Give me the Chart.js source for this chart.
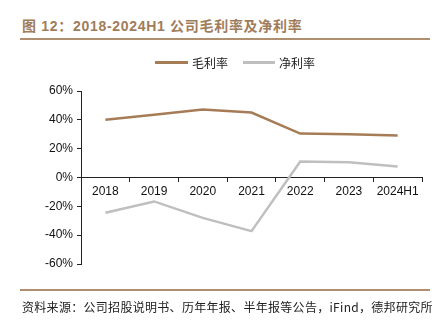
<!DOCTYPE html>
<html lang="zh">
  <head>
    <meta charset="utf-8" />
    <title>2018-2024H1 公司毛利率及净利率</title>
    <style>
      body { margin: 0; background: #fff; width: 445px; height: 324px; position: relative; overflow: hidden; }
      .title { position: absolute; left: 22px; top: 15px; font: bold 14px "Liberation Sans", "Noto Sans CJK SC", sans-serif; color: #a07c5a; letter-spacing: 0.7px; }
      .rule { position: absolute; left: 20px; width: 410px; height: 2px; background: #b08f70; }
      .legend { position: absolute; top: 54px; left: 0; font: 12px "Noto Sans CJK SC", sans-serif; color: #222; }
      .legend span { position: absolute; white-space: nowrap; }
      .legend i { position: absolute; height: 3px; top: 7px; }
      .source { position: absolute; left: 22px; top: 298px; font: 12px "Noto Sans CJK SC", "Liberation Sans", sans-serif; color: #222; letter-spacing: 0.3px; white-space: nowrap; }
      #wrap { position: absolute; left: 0; top: 0; width: 445px; height: 324px; }
    </style>
  </head>
  <body>
    <div class="title">图 12：2018-2024H1 公司毛利率及净利率</div>
    <div class="rule" style="top: 38px"></div>
    <div id="wrap"><canvas id="myChart"></canvas></div>
    <div class="legend">
      <i style="left: 155px; width: 33px; background: #a67c57"></i>
      <span style="left: 192px">毛利率</span>
      <i style="left: 243px; width: 32px; background: #bfbfbf"></i>
      <span style="left: 279px">净利率</span>
    </div>
    <div class="rule" style="top: 289px"></div>
    <div class="source">资料来源：公司招股说明书、历年年报、半年报等公告，iFind，德邦研究所</div>

    <script src="https://cdn.jsdelivr.net/npm/chart.js/dist/chart.umd.min.js"></script>
    <script>
      const labels = ["2018", "2019", "2020", "2021", "2022", "2023", "2024H1"];
      const grossMargin = [40.0, 43.5, 47.2, 45.1, 30.5, 30.0, 29.1];
      const netMargin = [-24.5, -16.6, -28.0, -37.2, 11.1, 10.6, 7.6];
      const yTicks = [-60, -40, -20, 0, 20, 40, 60];

      const data = {
        labels: labels,
        datasets: [
          {
            label: "毛利率",
            data: grossMargin,
            borderColor: "#a67c57",
            borderWidth: 2.5,
            pointRadius: 0,
            tension: 0,
          },
          {
            label: "净利率",
            data: netMargin,
            borderColor: "#bfbfbf",
            borderWidth: 2.5,
            pointRadius: 0,
            tension: 0,
          },
        ],
      };

      const config = {
        type: "line",
        data,
        options: {
          responsive: false,
          animation: false,
          layout: { padding: { top: 91, bottom: 60, left: 41, right: 23 } },
          plugins: { legend: { display: false }, tooltip: { enabled: false } },
          scales: {
            x: {
              position: { y: 0 },
              offset: true,
              grid: { offset: true, drawOnChartArea: false, tickLength: 4, color: "#222", tickWidth: 1 },
              border: { color: "#222", width: 1 },
              ticks: { color: "#111", font: { family: "Liberation Sans", size: 12 }, padding: 3, maxRotation: 0, autoSkip: false },
            },
            y: {
              min: yTicks[0],
              max: yTicks[yTicks.length - 1],
              afterBuildTicks: (axis) => { axis.ticks = yTicks.map((v) => ({ value: v })); },
              grid: { drawOnChartArea: false, tickLength: 4, color: "#222" },
              border: { color: "#222", width: 1 },
              ticks: { color: "#111", font: { family: "Liberation Sans", size: 12 }, padding: 4, callback: (v) => v + "%" },
            },
          },
        },
      };

      const canvas = document.getElementById("myChart");
      canvas.width = 445;
      canvas.height = 324;
      const myChart = new Chart(canvas, config);
    </script>
  </body>
</html>
